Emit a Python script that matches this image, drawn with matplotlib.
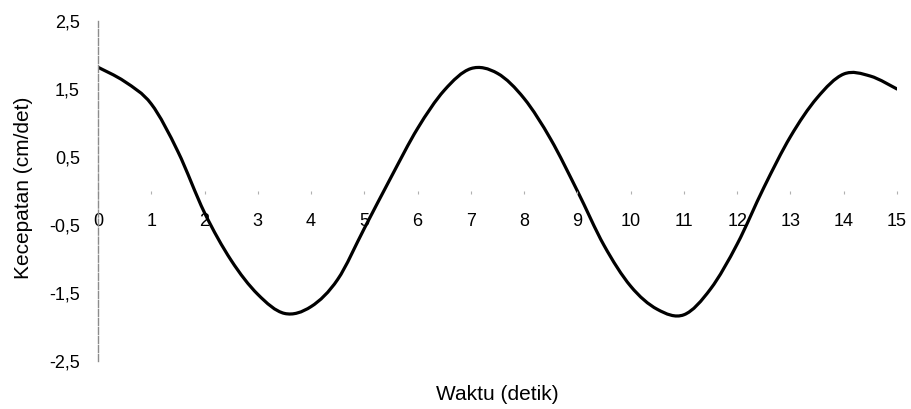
import numpy as np
import matplotlib
matplotlib.use('Agg')
import matplotlib.pyplot as plt
from matplotlib.path import Path
from matplotlib.patches import PathPatch

plt.rcParams['font.family'] = ['Liberation Sans', 'DejaVu Sans']

# waktu (detik) dan kecepatan (cm/det)
waktu = np.arange(0, 15.5, 0.5)
kecepatan = [1.82, 1.61, 1.28, 0.58, -0.32, -1.02, -1.52, -1.80, -1.70, -1.30,
             -0.55, 0.20, 0.92, 1.48, 1.80, 1.73, 1.36, 0.76, 0.00, -0.80,
             -1.40, -1.74, -1.82, -1.44, -0.78, 0.05, 0.80, 1.37, 1.72, 1.69,
             1.50]

x_ticks = list(range(0, 16))
y_ticks = [-2.5, -1.5, -0.5, 0.5, 1.5, 2.5]
y_labels = ['-2,5', '-1,5', '-0,5', '0,5', '1,5', '2,5']


def smooth_path(x, y):
    # garis halus (bezier) lewat titik-titik data, mirip "smoothed line"
    pts = np.column_stack([x, y])
    ext = np.vstack([pts[0], pts, pts[-1]])
    verts = [pts[0]]
    codes = [Path.MOVETO]
    for i in range(1, len(ext) - 2):
        p0, p1, p2, p3 = ext[i - 1], ext[i], ext[i + 1], ext[i + 2]
        verts += [p1 + (p2 - p0) / 6, p2 - (p3 - p1) / 6, p2]
        codes += [Path.CURVE4] * 3
    return Path(verts, codes)


fig = plt.figure(figsize=(9.11, 4.09), dpi=100)
ax = fig.add_axes([98 / 911, 1 - 361 / 409, 799 / 911, 340 / 409])

patch = PathPatch(smooth_path(waktu, kecepatan), facecolor='none',
                  edgecolor='black', lw=2.3, capstyle='round', joinstyle='round')
ax.add_patch(patch)

ax.set_xlim(0, 15)
ax.set_ylim(-2.5, 2.5)

ax.spines['top'].set_visible(False)
ax.spines['right'].set_visible(False)
ax.spines['bottom'].set_position(('data', 0))
ax.spines['bottom'].set_color('none')
ax.spines['left'].set_color('#8c8c8c')
ax.spines['left'].set_linestyle((0, (5, 1.5)))
ax.spines['left'].set_linewidth(1.0)

ax.set_xticks(x_ticks)
ax.set_xticklabels([str(t) for t in x_ticks])
ax.set_yticks(y_ticks)
ax.set_yticklabels(y_labels)
ax.tick_params(axis='x', direction='out', length=2, width=0.8, color='#b0b0b0',
               pad=14, labelsize=13)
ax.tick_params(axis='y', length=0, pad=13, labelsize=13)

fig.text(497 / 911, 1 - 395 / 409, 'Waktu (detik)', ha='center', va='center',
         fontsize=15)
fig.text(24 / 911, 1 - 188 / 409, 'Kecepatan (cm/det)', ha='center', va='center',
         rotation=90, fontsize=15)

plt.savefig('out.png', dpi=100)
